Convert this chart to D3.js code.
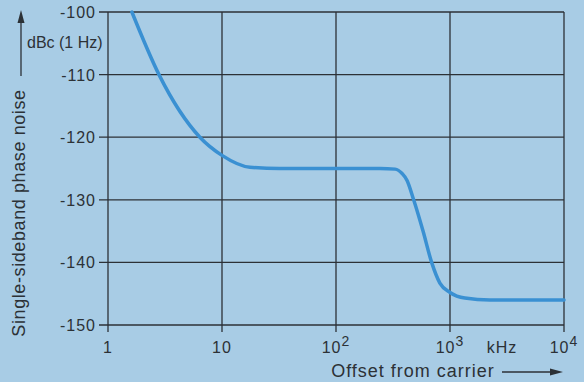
<!DOCTYPE html>
<html>
<head>
<meta charset="utf-8">
<script src="https://cdn.jsdelivr.net/npm/d3@7"></script>
<style>
  body { margin: 0; background: #a8cce5; }
  svg { display: block; font-family: "Liberation Sans", Arial, sans-serif; }
</style>
</head>
<body>
<svg id="chart" width="584" height="382"></svg>
<script>
// phase noise curve
const offsetKHz = [1.62, 2.8, 6.4, 10, 17.6, 32, 100, 243, 330, 380, 420, 480, 580, 690, 815, 1000, 1350, 2240, 10000];
const noiseDbc  = [-100, -110, -120, -122.9, -124.8, -125, -125, -125, -125.1, -125.8, -126.9, -130, -135, -140, -143.3, -144.8, -145.7, -146, -146];

const yTicks = [-100, -110, -120, -130, -140, -150];
const xTicks = [1, 10, 100, 1000, 10000];
const xTickLabels = ["1", "10", "10|2", "10|3", "10|4"];

const width = 584, height = 382;
const margin = { top: 12, right: 20, bottom: 57, left: 108 };

const svg = d3.select("#chart");
const ink = "#2c3136";

const x = d3.scaleLog()
    .domain([1, 10000])
    .range([margin.left, width - margin.right]);

const y = d3.scaleLinear()
    .domain([-150, -100])
    .range([height - margin.bottom, margin.top]);

// grid
svg.append("g")
    .selectAll("line")
    .data(yTicks)
    .join("line")
    .attr("x1", x(1) - 9)
    .attr("x2", x(10000))
    .attr("y1", d => y(d))
    .attr("y2", d => y(d))
    .attr("stroke", ink)
    .attr("stroke-width", 1.3);

svg.append("g")
    .selectAll("line")
    .data(xTicks)
    .join("line")
    .attr("x1", d => x(d))
    .attr("x2", d => x(d))
    .attr("y1", y(-100))
    .attr("y2", y(-150) + 7)
    .attr("stroke", ink)
    .attr("stroke-width", 1.3);

// y labels
svg.append("g")
    .selectAll("text")
    .data(yTicks)
    .join("text")
    .attr("x", x(1) - 12)
    .attr("y", d => y(d) + 6)
    .attr("text-anchor", "end")
    .attr("font-size", 16)
    .attr("letter-spacing", 1)
    .attr("fill", ink)
    .text(d => "-" + Math.abs(d));

// x labels
const xl = svg.append("g")
    .selectAll("text")
    .data(xTicks)
    .join("text")
    .attr("x", d => x(d))
    .attr("y", height - margin.bottom + 28)
    .attr("text-anchor", "middle")
    .attr("font-size", 16)
    .attr("letter-spacing", 1)
    .attr("fill", ink);

xl.each(function(d, i) {
    const parts = xTickLabels[i].split("|");
    const t = d3.select(this);
    t.append("tspan").text(parts[0]);
    if (parts[1]) {
        t.append("tspan")
            .attr("dy", -7)
            .attr("font-size", 14)
            .text(parts[1]);
    }
});

svg.append("text")
    .attr("x", 502)
    .attr("y", height - margin.bottom + 28)
    .attr("text-anchor", "middle")
    .attr("font-size", 16)
    .attr("letter-spacing", 1)
    .attr("fill", ink)
    .text("kHz");

// axis titles
svg.append("text")
    .attr("x", 413)
    .attr("y", 377)
    .attr("text-anchor", "middle")
    .attr("font-size", 18)
    .attr("letter-spacing", 1)
    .attr("fill", ink)
    .text("Offset from carrier");

svg.append("line")
    .attr("x1", 502).attr("x2", 554)
    .attr("y1", 372).attr("y2", 372)
    .attr("stroke", ink).attr("stroke-width", 1.3);
svg.append("path")
    .attr("d", "M563,372 L550,368.5 L550,375.5 Z")
    .attr("fill", ink);

svg.append("text")
    .attr("transform", "translate(25,213) rotate(-90)")
    .attr("text-anchor", "middle")
    .attr("font-size", 18)
    .attr("letter-spacing", 0.6)
    .attr("fill", ink)
    .text("Single-sideband phase noise");

svg.append("line")
    .attr("x1", 21).attr("x2", 21)
    .attr("y1", 76).attr("y2", 20)
    .attr("stroke", ink).attr("stroke-width", 1.3);
svg.append("path")
    .attr("d", "M21,10 L17.5,23 L24.5,23 Z")
    .attr("fill", ink);

svg.append("text")
    .attr("x", 27)
    .attr("y", 48)
    .attr("font-size", 16)
    .attr("fill", ink)
    .text("dBc (1 Hz)");

// curve
const line = d3.line()
    .x((d, i) => x(offsetKHz[i]))
    .y(d => y(d))
    .curve(d3.curveMonotoneX);

svg.append("path")
    .datum(noiseDbc)
    .attr("d", line)
    .attr("fill", "none")
    .attr("stroke", "#3a90d2")
    .attr("stroke-width", 3.5)
    .attr("stroke-linecap", "round");
</script>
</body>
</html>
